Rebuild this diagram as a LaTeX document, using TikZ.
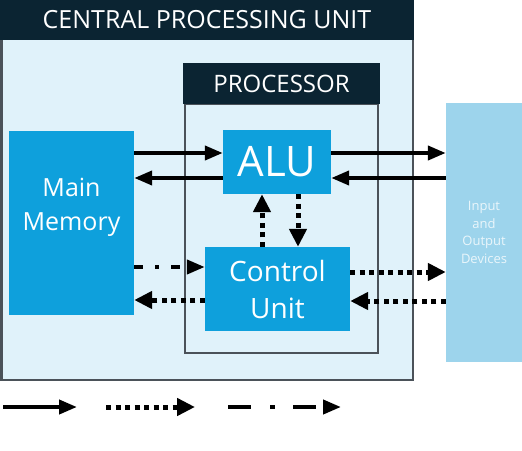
\documentclass[tikz,border=0pt]{standalone}
\usepackage{fontspec}
\setmainfont{Open Sans}
\usetikzlibrary{arrows.meta}
\definecolor{head}{HTML}{0B2432}
\definecolor{cpufill}{HTML}{E0F2FA}
\definecolor{frame}{HTML}{4B5259}
\definecolor{unit}{HTML}{0EA0DC}
\definecolor{io}{HTML}{9DD4EC}
\definecolor{iotext}{HTML}{EAF6FB}

\begin{document}
\begin{tikzpicture}[x=1pt,y=-1pt,
 box/.style={fill=unit,text=white,inner sep=0pt,align=center},
 headbar/.style={fill=head,text=white,inner sep=0pt},
 solidarr/.style={-{Triangle[length=18pt,width=14pt]},line width=4pt},
 dotarr/.style={-{Triangle[length=18pt,width=17pt]},line width=5pt,dash pattern=on 5pt off 4.5pt},
 dasharr/.style={-{Triangle[length=18pt,width=14pt]},line width=4pt,dash pattern=on 9pt off 12pt on 4pt off 12pt}]
\useasboundingbox (0,0) rectangle (522,450);
\fill[white] (0,0) rectangle (522,450);
\node[draw=frame,fill=cpufill,line width=2.5pt,inner sep=0pt,minimum width=411.5pt,minimum height=379pt] (cpu) at (207,190.7) {};
\node[headbar,minimum width=414pt,minimum height=40pt,font=\fontsize{25pt}{30pt}\selectfont] (cpuhead) at (207,20) {CENTRAL PROCESSING UNIT};
\node[draw=frame,line width=1.2pt,inner sep=0pt,minimum width=193pt,minimum height=249pt] (proc) at (281.5,228.5) {};
\node[headbar,minimum width=197pt,minimum height=41pt,font=\fontsize{24pt}{29pt}\selectfont] (prochead) at (281.5,83.5) {PROCESSOR};
\node[box,minimum width=108pt,minimum height=64pt,font=\fontsize{42pt}{50pt}\selectfont] (alu) at (277,162) {ALU};
\node[box,minimum width=145pt,minimum height=84pt,font=\fontsize{28pt}{37pt}\selectfont] (cu) at (277.5,289) {Control\\Unit};
\node[box,minimum width=125pt,minimum height=184pt] (mem) at (71.5,223) {};
\node[text=white,align=center,inner sep=0pt,font=\fontsize{25pt}{34pt}\selectfont] (memlabel) at (71.5,207) {Main\\Memory};
\node[box,fill=io,text=iotext,minimum width=76pt,minimum height=259pt,font=\fontsize{13pt}{17.5pt}\selectfont] (io) at (484,232.5) {Input\\and\\Output\\Devices};
\coordinate (r1) at (0,153);\coordinate (r2) at (0,178);\coordinate (r3) at (0,267);
\coordinate (r4) at (0,300);\coordinate (r5) at (0,272);\coordinate (r6) at (0,301);
\coordinate (c1) at (262,0);\coordinate (c2) at (298,0);
\draw[solidarr] (mem.east|-r1)--(alu.west|-r1);\draw[solidarr] (alu.west|-r2)--(mem.east|-r2);
\draw[solidarr] (alu.east|-r1)--(io.west|-r1);\draw[solidarr] (io.west|-r2)--(alu.east|-r2);
\draw[dotarr] (cu.north-|c1)--(alu.south-|c1);\draw[dotarr] (alu.south-|c2)--(cu.north-|c2);
\draw[dasharr] (mem.east|-r3)--(cu.west|-r3);\draw[dotarr] (cu.west|-r4)--(mem.east|-r4);
\draw[dotarr] (cu.east|-r5)--(io.west|-r5);\draw[dotarr] (io.west|-r6)--(cu.east|-r6);
\coordinate (l1a) at (3,407);\coordinate (l1b) at (77,407);
\coordinate (l2a) at (106,407);\coordinate (l2b) at (195,407);
\coordinate (l3a) at (228,407);\coordinate (l3b) at (341,407);
\draw[solidarr] (l1a)--(l1b);\draw[dotarr] (l2a)--(l2b);
\draw[dasharr,dash pattern=on 23pt off 19pt on 5pt off 18pt] (l3a)--(l3b);
\end{tikzpicture}
\end{document}
